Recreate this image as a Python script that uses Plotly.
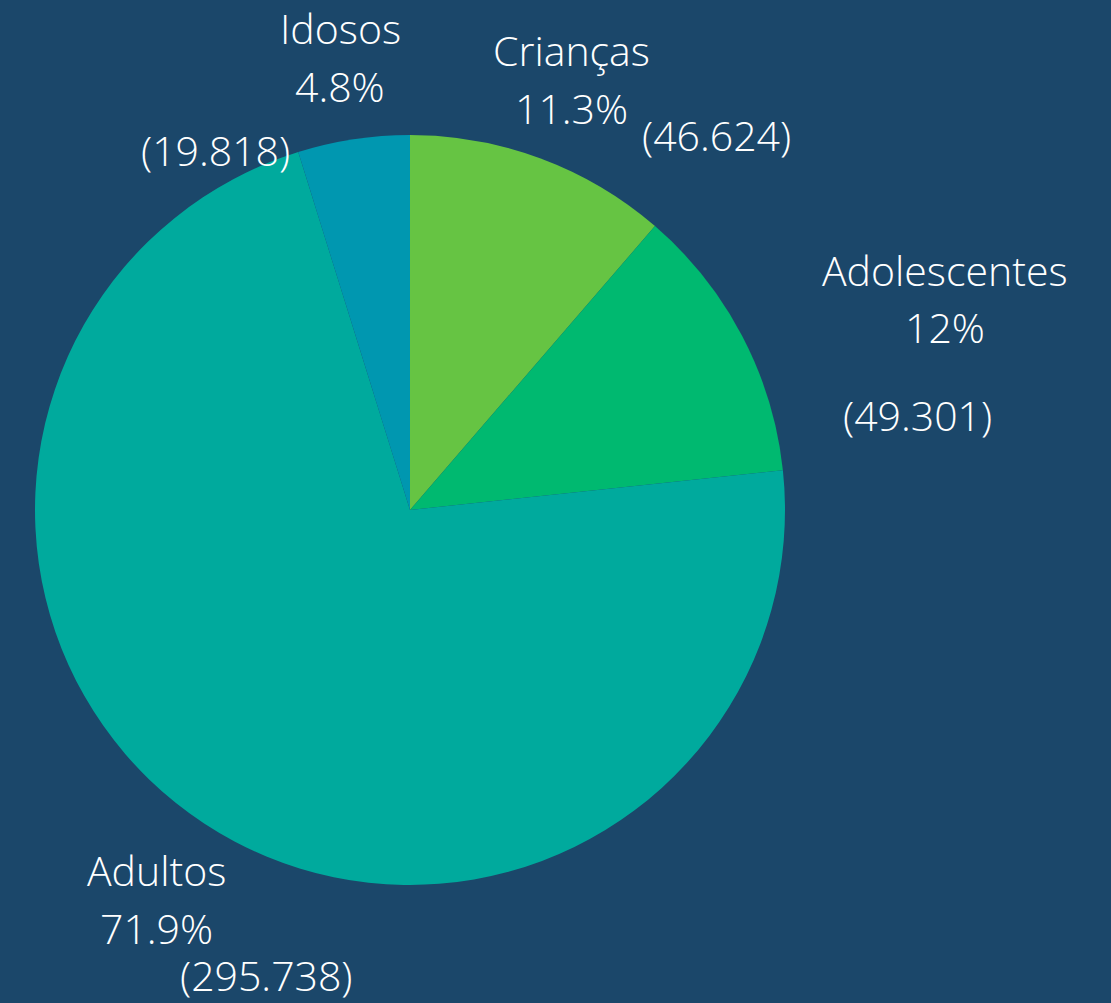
import plotly.graph_objects as go

categories = ["Crianças", "Adolescentes", "Adultos", "Idosos"]
values = [46.624, 49.301, 295.738, 19.818]
pct_labels = ["11.3%", "12%", "71.9%", "4.8%"]
value_labels = ["(46.624)", "(49.301)", "(295.738)", "(19.818)"]
colors = ["#66C443", "#00B970", "#00AA9D", "#0097B0"]

W, H = 1111, 1003
BG = "#1B476A"

fig = go.Figure(go.Pie(
    labels=categories,
    values=values,
    sort=False,
    direction="clockwise",
    rotation=0,
    marker=dict(colors=colors, line=dict(width=0)),
    textinfo="none",
    hoverinfo="label+percent+value",
    domain=dict(x=[35 / W, 785 / W], y=[1 - 885 / H, 1 - 135 / H]),
    showlegend=False,
))

# label placement (pixel centres) for name, percent, value per category
name_pos = [(571, 50), (945, 270), (156, 870), (340, 28)]
pct_pos = [(571, 108), (945, 327), (156, 928), (340, 86)]
val_pos = [(716, 135), (917, 415), (266, 975), (215, 150)]

font = dict(family="Open Sans", size=41, color="white", weight=300)
ann = []
for i in range(len(categories)):
    for txt, (px, py) in ((categories[i], name_pos[i]), (pct_labels[i], pct_pos[i]), (value_labels[i], val_pos[i])):
        ann.append(dict(text=txt, x=px / W, y=1 - py / H, xref="paper", yref="paper",
                        xanchor="center", yanchor="middle", showarrow=False, font=font))

fig.update_layout(
    width=W, height=H,
    margin=dict(l=0, r=0, t=0, b=0),
    paper_bgcolor=BG, plot_bgcolor=BG,
    annotations=ann,
)

fig.write_html(
    "out.html",
    config={"displayModeBar": False},
    post_script="document.body.style.margin='0';document.body.style.padding='0';"
                "document.body.style.overflow='hidden';document.body.style.background='#1B476A';",
)
